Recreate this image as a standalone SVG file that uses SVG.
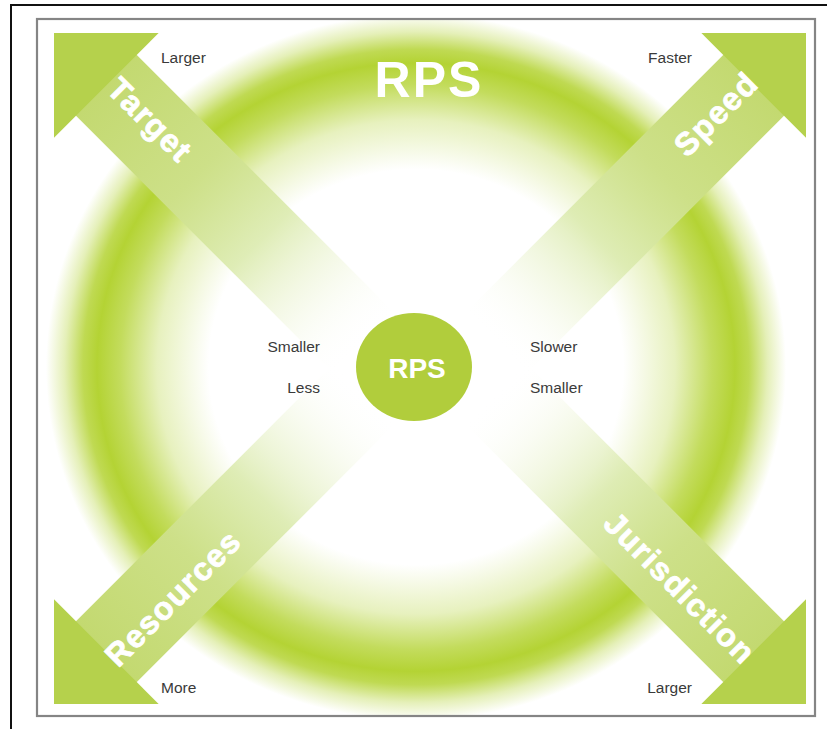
<svg xmlns="http://www.w3.org/2000/svg" width="827" height="729" viewBox="0 0 827 729">
  <defs>
    <style>
      .head { fill: #b5d14c; }
      .shaft { fill: url(#shaftGrad); }
      .axis-label { font-family: "Liberation Sans", Arial, sans-serif; font-weight: bold; font-size: 32px; fill: #ffffff; stroke: #ffffff; stroke-width: 0.8px; letter-spacing: 1.5px; text-anchor: middle; }
      .note { font-family: "Liberation Sans", Arial, sans-serif; font-size: 15.5px; fill: #3a3a3a; }
      .title { font-family: "Liberation Sans", Arial, sans-serif; font-weight: bold; fill: #ffffff; text-anchor: middle; }
    </style>
    <!-- soft lime ring, elliptical -->
    <radialGradient id="ringGrad" gradientUnits="userSpaceOnUse" cx="416" cy="367" r="370"
                    gradientTransform="translate(416 367) scale(1 0.954) translate(-416 -367)">
      <stop offset="0" stop-color="#b4d334" stop-opacity="0"/>
      <stop offset="0.56" stop-color="#b4d334" stop-opacity="0"/>
      <stop offset="0.70" stop-color="#b4d334" stop-opacity="0.32"/>
      <stop offset="0.80" stop-color="#b4d334" stop-opacity="0.8"/>
      <stop offset="0.862" stop-color="#b4d334" stop-opacity="1"/>
      <stop offset="0.90" stop-color="#b4d334" stop-opacity="0.85"/>
      <stop offset="0.95" stop-color="#b4d334" stop-opacity="0.35"/>
      <stop offset="1" stop-color="#b4d334" stop-opacity="0"/>
    </radialGradient>
    <!-- arrow shaft, in arrow-local coordinates (x runs from tip toward centre) -->
    <linearGradient id="shaftGrad" gradientUnits="userSpaceOnUse" x1="72" y1="0" x2="440" y2="0">
      <stop offset="0" stop-color="#c3d970" stop-opacity="1"/>
      <stop offset="0.35" stop-color="#cde088" stop-opacity="1"/>
      <stop offset="0.6" stop-color="#dcebb0" stop-opacity="0.92"/>
      <stop offset="0.8" stop-color="#eef5d8" stop-opacity="0.5"/>
      <stop offset="1" stop-color="#ffffff" stop-opacity="0"/>
    </linearGradient>
    <clipPath id="panel">
      <rect x="38" y="20" width="776" height="695"/>
    </clipPath>
  </defs>

  <rect x="0" y="0" width="827" height="729" fill="#ffffff"/>

  <g clip-path="url(#panel)">
    <!-- outer ring -->
    <g id="ring">
      <ellipse cx="416" cy="367" rx="372" ry="355" fill="url(#ringGrad)"/>
      <text class="title" x="429" y="97" font-size="50" letter-spacing="2">RPS</text>
    </g>

    <!-- four dimension arrows -->
    <g id="connectors">
      <g id="arrow-target" transform="translate(54 33) rotate(45)">
        <rect class="shaft" x="72" y="-43" width="370" height="86"/>
        <polygon class="head" points="0,0 74,-74 74,74"/>
      </g>
      <g id="arrow-speed" transform="translate(806 33) rotate(135)">
        <rect class="shaft" x="72" y="-43" width="370" height="86"/>
        <polygon class="head" points="0,0 74,-74 74,74"/>
      </g>
      <g id="arrow-resources" transform="translate(54 704) rotate(-45)">
        <rect class="shaft" x="72" y="-43" width="370" height="86"/>
        <polygon class="head" points="0,0 74,-74 74,74"/>
      </g>
      <g id="arrow-jurisdiction" transform="translate(806 704) rotate(-135)">
        <rect class="shaft" x="72" y="-43" width="370" height="86"/>
        <polygon class="head" points="0,0 74,-74 74,74"/>
      </g>
    </g>

    <!-- arrow labels -->
    <g id="label-target">
      <text class="axis-label" transform="translate(150 120) rotate(45)" y="11">Target</text>
      <text class="note" x="161" y="63">Larger</text>
      <text class="note" x="320" y="352" text-anchor="end">Smaller</text>
    </g>
    <g id="label-speed">
      <text class="axis-label" transform="translate(716 114) rotate(-45)" y="11">Speed</text>
      <text class="note" x="692" y="63" text-anchor="end">Faster</text>
      <text class="note" x="530" y="352">Slower</text>
    </g>
    <g id="label-resources">
      <text class="axis-label" transform="translate(173 598) rotate(-45)" y="11">Resources</text>
      <text class="note" x="161" y="693">More</text>
      <text class="note" x="320" y="393" text-anchor="end">Less</text>
    </g>
    <g id="label-jurisdiction">
      <text class="axis-label" transform="translate(680 588) rotate(45)" y="11">Jurisdiction</text>
      <text class="note" x="692" y="693" text-anchor="end">Larger</text>
      <text class="note" x="530" y="393">Smaller</text>
    </g>

    <!-- centre node -->
    <g id="node-rps">
      <ellipse cx="414" cy="367" rx="58" ry="54" fill="#b1cd3c"/>
      <text class="title" x="417" y="378" font-size="28">RPS</text>
    </g>
  </g>

  <!-- frames -->
  <g id="frame">
    <rect x="37" y="19" width="778" height="697" fill="none" stroke="#858585" stroke-width="2.2"/>
    <path d="M11 729 V5 H827" fill="none" stroke="#111111" stroke-width="2"/>
  </g>
</svg>
